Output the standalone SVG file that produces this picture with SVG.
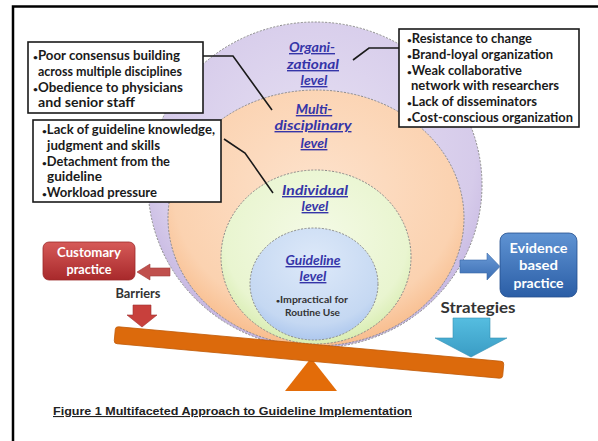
<svg xmlns="http://www.w3.org/2000/svg" width="598" height="441" viewBox="0 0 598 441">
<style>
.box{fill:#fff;stroke:#1a1a1a;stroke-width:1.6}
.bt{font-family:Lato,"Open Sans",sans-serif;font-weight:bold;font-size:12.5px;fill:#1a1a1a}
.bu{font-size:8px}
.lvl{font-family:Lato,"Open Sans",sans-serif;font-weight:bold;font-style:italic;font-size:14px;fill:#3535a8;text-decoration:underline;text-anchor:middle}
.ring{stroke:#8a8a8a;stroke-width:1;stroke-dasharray:2 1.5}
.conn{fill:none;stroke:#1a1a1a;stroke-width:1.6}
.wt{font-family:Lato,"Open Sans",sans-serif;font-weight:bold;fill:#fff;text-anchor:middle}
.lab{font-family:Lato,"Open Sans",sans-serif;font-weight:bold;fill:#333;text-anchor:middle}
</style>
<defs>
<radialGradient id="gPur" cx="0.5" cy="0.4" r="0.6"><stop offset="0" stop-color="#e6e0f3"/><stop offset="0.8" stop-color="#d6cbea"/><stop offset="1" stop-color="#c4b4e0"/></radialGradient>
<radialGradient id="gOr" cx="0.5" cy="0.4" r="0.6"><stop offset="0" stop-color="#fde2cc"/><stop offset="0.8" stop-color="#fbd2b0"/><stop offset="1" stop-color="#f8bd8e"/></radialGradient>
<radialGradient id="gGr" cx="0.5" cy="0.4" r="0.6"><stop offset="0" stop-color="#f4fae6"/><stop offset="0.8" stop-color="#e9f5d0"/><stop offset="1" stop-color="#d9edb2"/></radialGradient>
<radialGradient id="gBl" cx="0.5" cy="0.3" r="0.7"><stop offset="0" stop-color="#dde9f9"/><stop offset="0.8" stop-color="#c5d8f2"/><stop offset="1" stop-color="#aec8ee"/></radialGradient>
<linearGradient id="gRed" x1="0" y1="0" x2="0" y2="1"><stop offset="0" stop-color="#d65a58"/><stop offset="1" stop-color="#a8292b"/></linearGradient>
<linearGradient id="gBlue" x1="0" y1="0" x2="0" y2="1"><stop offset="0" stop-color="#5f93d3"/><stop offset="1" stop-color="#2b5ea6"/></linearGradient>
<linearGradient id="gCy" x1="0" y1="0" x2="0" y2="1"><stop offset="0" stop-color="#55bde0"/><stop offset="1" stop-color="#3a9cc4"/></linearGradient>
<linearGradient id="gArB" x1="0" y1="0" x2="0" y2="1"><stop offset="0" stop-color="#6a9ad6"/><stop offset="1" stop-color="#3a6db3"/></linearGradient>
</defs>
<rect width="598" height="441" fill="#fff"/>
<path d="M13,441 V6.5 H598" fill="none" stroke="#000" stroke-width="2.5"/>

<g id="organizational">
<ellipse class="ring" cx="315" cy="185" rx="167" ry="163" fill="url(#gPur)"/>
<text class="lvl" x="312" y="52" textLength="46" lengthAdjust="spacingAndGlyphs">Organi-</text>
<text class="lvl" x="313" y="69" textLength="52" lengthAdjust="spacingAndGlyphs">zational</text>
<text class="lvl" x="314" y="85">level</text>
</g>
<g id="multidisciplinary">
<ellipse class="ring" cx="316" cy="218" rx="148" ry="128" fill="url(#gOr)"/>
<text class="lvl" x="314" y="114">Multi-</text>
<text class="lvl" x="313" y="130" textLength="77" lengthAdjust="spacingAndGlyphs">disciplinary</text>
<text class="lvl" x="314" y="148">level</text>
</g>
<g id="individual">
<ellipse class="ring" cx="316" cy="257" rx="95" ry="87" fill="url(#gGr)"/>
<text class="lvl" x="315" y="195" textLength="66" lengthAdjust="spacingAndGlyphs">Individual</text>
<text class="lvl" x="315" y="211">level</text>
</g>
<g id="guideline">
<ellipse class="ring" cx="314" cy="284" rx="64" ry="56" fill="url(#gBl)"/>
<text class="lvl" x="313" y="265" font-size="12.5" textLength="55" lengthAdjust="spacingAndGlyphs">Guideline</text>
<text class="lvl" x="313" y="281" font-size="12.5">level</text>
<text class="lab" x="312" y="303" font-size="9" fill="#222" textLength="72" lengthAdjust="spacingAndGlyphs"><tspan font-size="6">•</tspan>Impractical for</text>
<text class="lab" x="312.5" y="316" font-size="9" fill="#222" textLength="55" lengthAdjust="spacingAndGlyphs">Routine Use</text>
</g>

<g id="connectors">
<polyline class="conn" points="203,56 233,56 272,110"/>
<polyline class="conn" points="224,139 245,153 273,193"/>
<polyline class="conn" points="353,60 369,48 399,48"/>
</g>

<g id="box-multidisciplinary">
<rect class="box" x="28" y="42" width="175" height="71"/>
<text class="bt" x="33" y="60" textLength="147" lengthAdjust="spacingAndGlyphs"><tspan class="bu">•</tspan>Poor consensus building</text>
<text class="bt" x="38" y="76" textLength="144" lengthAdjust="spacingAndGlyphs">across multiple disciplines</text>
<text class="bt" x="33" y="92" textLength="150" lengthAdjust="spacingAndGlyphs"><tspan class="bu">•</tspan>Obedience to physicians</text>
<text class="bt" x="38" y="107" textLength="97" lengthAdjust="spacingAndGlyphs">and senior staff</text>
</g>
<g id="box-individual">
<rect class="box" x="33" y="120" width="188" height="82"/>
<text class="bt" x="42" y="134" textLength="173" lengthAdjust="spacingAndGlyphs"><tspan class="bu">•</tspan>Lack of guideline knowledge,</text>
<text class="bt" x="47" y="150" textLength="113" lengthAdjust="spacingAndGlyphs">judgment and skills</text>
<text class="bt" x="42" y="166" textLength="128" lengthAdjust="spacingAndGlyphs"><tspan class="bu">•</tspan>Detachment from the</text>
<text class="bt" x="47" y="181" textLength="55" lengthAdjust="spacingAndGlyphs">guideline</text>
<text class="bt" x="42" y="197" textLength="115" lengthAdjust="spacingAndGlyphs"><tspan class="bu">•</tspan>Workload pressure</text>
</g>
<g id="box-organizational">
<rect class="box" x="399" y="29" width="180" height="98"/>
<text class="bt" x="407" y="43" textLength="125" lengthAdjust="spacingAndGlyphs"><tspan class="bu">•</tspan>Resistance to change</text>
<text class="bt" x="407" y="59" textLength="146" lengthAdjust="spacingAndGlyphs"><tspan class="bu">•</tspan>Brand-loyal organization</text>
<text class="bt" x="407" y="75" textLength="115" lengthAdjust="spacingAndGlyphs"><tspan class="bu">•</tspan>Weak collaborative</text>
<text class="bt" x="411" y="90" textLength="148" lengthAdjust="spacingAndGlyphs">network with researchers</text>
<text class="bt" x="407" y="106" textLength="130" lengthAdjust="spacingAndGlyphs"><tspan class="bu">•</tspan>Lack of disseminators</text>
<text class="bt" x="407" y="122" textLength="166" lengthAdjust="spacingAndGlyphs"><tspan class="bu">•</tspan>Cost-conscious organization</text>
</g>

<g id="balance">
<polygon points="311,358 285,391 337,391" fill="#e36c09"/>
<rect x="-195" y="-8.5" width="390" height="17" rx="3" fill="#dc6a0c" stroke="#c25c08" stroke-width="0.8" transform="translate(309,352.5) rotate(5.15)"/>
</g>

<g id="customary-practice">
<rect x="43" y="242" width="92" height="38" rx="6" fill="url(#gRed)" stroke="#9c2a2a" stroke-width="0.8"/>
<text class="wt" x="89" y="257" font-size="13.5" textLength="64" lengthAdjust="spacingAndGlyphs">Customary</text>
<text class="wt" x="89" y="274" font-size="13.5" textLength="45" lengthAdjust="spacingAndGlyphs">practice</text>
</g>
<g id="arrow-to-customary">
<polygon points="170,268 150,268 150,264 137,272 150,280 150,276 170,276" fill="#c0504d" stroke="#a03c3a" stroke-width="0.6"/>
</g>
<g id="barriers">
<text class="lab" x="138" y="298" font-size="12.5" textLength="45" lengthAdjust="spacingAndGlyphs">Barriers</text>
<polygon points="133,305 151,305 151,315 157,315 142,327 127,315 133,315" fill="#c8403c" stroke="#a03030" stroke-width="0.6"/>
</g>

<g id="evidence-based-practice">
<rect x="500" y="233" width="77" height="64" rx="8" fill="url(#gBlue)" stroke="#254f8e" stroke-width="0.8"/>
<text class="wt" x="538.5" y="253" font-size="14" textLength="58" lengthAdjust="spacingAndGlyphs">Evidence</text>
<text class="wt" x="538.5" y="270" font-size="14" textLength="39" lengthAdjust="spacingAndGlyphs">based</text>
<text class="wt" x="538.5" y="288" font-size="14" textLength="50" lengthAdjust="spacingAndGlyphs">practice</text>
</g>
<g id="arrow-to-evidence">
<polygon points="460,260 487,260 487,253 500,266.5 487,280 487,273 460,273" fill="url(#gArB)" stroke="#3a6aa8" stroke-width="0.6"/>
</g>
<g id="strategies">
<text class="lab" x="478" y="313" font-size="16" textLength="75" lengthAdjust="spacingAndGlyphs">Strategies</text>
<polygon points="453,318 490,318 490,338 507,338 471,357 435,338 453,338" fill="url(#gCy)" stroke="#3690b4" stroke-width="0.6"/>
</g>

<g id="caption">
<text x="53" y="415" font-family="'Liberation Sans',Arial,sans-serif" font-weight="bold" font-size="11" fill="#222" text-decoration="underline" textLength="359" lengthAdjust="spacingAndGlyphs">Figure 1  Multifaceted Approach to Guideline Implementation</text>
</g>
</svg>
